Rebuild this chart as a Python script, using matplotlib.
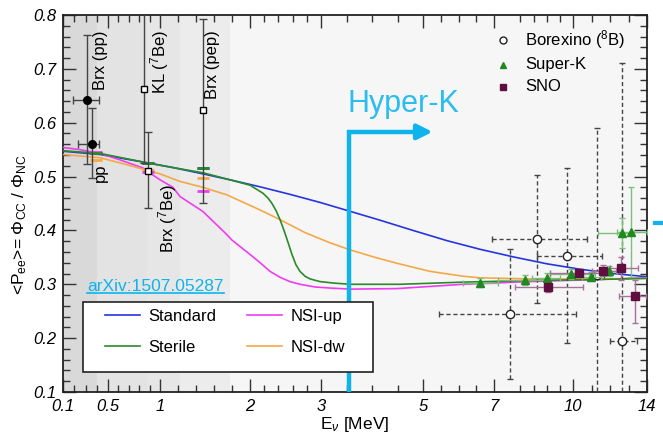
import numpy as np
import matplotlib
matplotlib.use('Agg')
import matplotlib.pyplot as plt
from matplotlib.lines import Line2D
from matplotlib.patches import Rectangle

plt.rcParams['font.family'] = ['Liberation Sans', 'DejaVu Sans']
plt.rcParams['mathtext.fontset'] = 'custom'
plt.rcParams['mathtext.rm'] = 'Liberation Sans'
plt.rcParams['mathtext.it'] = 'Liberation Sans:italic'
plt.rcParams['mathtext.bf'] = 'Liberation Sans:bold'

# ---------------- energy axis definition ----------------
tick_E = [0.1, 0.5, 1, 2, 3, 5, 7, 10, 14]
tick_labels = ['0.1', '0.5', '1', '2', '3', '5', '7', '10', '14']
scale_knots = [0, 45, 97, 187, 258, 360, 431, 510, 584]
minor_E = [0.2, 0.3, 0.4, 0.6, 0.7, 0.8, 0.9, 1.2, 1.4, 1.6, 1.8,
           2.2, 2.4, 2.6, 2.8, 3.5, 4, 4.5, 5.5, 6, 6.5, 8, 8.5, 9, 9.5,
           11, 12, 13]

# ---------------- model curves ----------------
std_E = [0.1, 0.429, 0.837, 1.167, 1.478, 1.778, 2.141, 2.563, 2.986, 3.588,
         4.157, 4.804, 5.676, 6.606, 7.722, 9.013, 10.378, 12.162, 14]
std_P = [0.547, 0.541, 0.527, 0.516, 0.505, 0.494, 0.481, 0.467, 0.452,
         0.435, 0.419, 0.400, 0.381, 0.365, 0.351, 0.338, 0.328, 0.320, 0.314]

ster_E = [0.1, 0.429, 0.837, 1.167, 1.478, 1.778, 2.0, 2.183, 2.254, 2.31,
          2.366, 2.423, 2.479, 2.535, 2.592, 2.648, 2.704, 2.775, 2.845,
          2.986, 3.275, 3.588, 4.549, 6.127, 8.367, 11.46, 14]
ster_P = [0.548, 0.543, 0.527, 0.516, 0.507, 0.494, 0.484, 0.469, 0.460,
          0.450, 0.437, 0.420, 0.400, 0.378, 0.355, 0.336, 0.324, 0.315,
          0.310, 0.305, 0.302, 0.300, 0.300, 0.304, 0.307, 0.309, 0.311]

nsiup_E = [0.1, 0.251, 0.429, 0.615, 0.837, 0.885, 1.0, 1.144, 1.222, 1.478,
           1.744, 1.8, 2.042, 2.169, 2.282, 2.423, 2.563, 2.704, 2.915, 3.176,
           3.588, 4.49, 6.127, 8.367, 11.46, 14]
nsiup_P = [0.554, 0.550, 0.543, 0.531, 0.516, 0.509, 0.494, 0.480, 0.463,
           0.435, 0.392, 0.382, 0.351, 0.337, 0.324, 0.313, 0.305, 0.300,
           0.295, 0.293, 0.291, 0.292, 0.300, 0.305, 0.309, 0.312]

nsidw_E = [0.1, 0.429, 0.683, 1.0, 1.222, 1.478, 1.744, 2.141, 2.423, 2.775,
           3.176, 3.569, 4.059, 4.49, 5.197, 6.127, 6.606, 8.367, 11.46, 14]
nsidw_P = [0.541, 0.535, 0.522, 0.505, 0.491, 0.480, 0.466, 0.438, 0.420,
           0.396, 0.377, 0.364, 0.350, 0.339, 0.324, 0.315, 0.312, 0.310,
           0.310, 0.311]

# model averages at the pp, 7Be and pep lines
line_E = [0.39, 0.88, 1.48]
std_avg = [0.543, 0.525, 0.516]
ster_avg = [0.543, 0.525, 0.516]
nsiup_avg = [0.545, 0.509, 0.473]
nsidw_avg = [0.531, 0.512, 0.497]

# ---------------- low energy measurements ----------------
pp_E = [0.313, 0.358]
pp_P = [0.642, 0.560]
pp_Plo = [0.523, 0.497]
pp_Phi = [0.763, 0.627]
pp_Elo = [0.189, 0.233]
pp_Ehi = [0.420, 0.420]

be_E = [0.846, 0.885, 1.48]
be_P = [0.662, 0.510, 0.623]
be_Plo = [0.525, 0.442, 0.451]
be_Phi = [0.850, 0.583, 0.793]

# ---------------- 8B measurements ----------------
bx_E = [7.61, 8.63, 9.77, 11.3, 12.65]
bx_P = [0.245, 0.384, 0.353, 0.317, 0.195]
bx_Elo = [5.45, 6.94, 8.63, 10.9, 12.0]
bx_Ehi = [10.16, 10.76, 11.57, 11.7, 13.46]
bx_Plo = [0.124, 0.265, 0.191, 0.05, 0.05]
bx_Phi = [0.366, 0.503, 0.516, 0.590, 0.711]

sk_E = [6.61, 8.18, 9.01, 9.92, 10.97, 11.95, 12.65, 13.14]
sk_P = [0.303, 0.308, 0.312, 0.319, 0.314, 0.325, 0.395, 0.397]
sk_Elo = [6.13, 7.15, 8.44, 9.13, 10.5, 11.5, 11.35, 12.38]
sk_Ehi = [7.15, 9.13, 9.51, 11.19, 11.5, 12.4, 13.3, 14.0]
sk_Plo = [0.295, 0.298, 0.303, 0.310, 0.306, 0.316, 0.367, 0.314]
sk_Phi = [0.311, 0.318, 0.321, 0.328, 0.322, 0.334, 0.423, 0.480]

sno_E = [9.05, 10.32, 11.62, 12.59, 13.35]
sno_P = [0.295, 0.321, 0.325, 0.330, 0.278]
sno_Elo = [7.8, 9.13, 11.0, 12.0, 12.49]
sno_Ehi = [10.54, 11.57, 12.3, 13.5, 13.95]
sno_Plo = [0.285, 0.313, 0.316, 0.308, 0.228]
sno_Phi = [0.305, 0.329, 0.335, 0.351, 0.308]

# shaded energy windows of the low energy lines
band_E = [0.1, 0.40, 0.875, 1.22, 1.78]
band_colors = ['#d9d9d9', '#e3e3e3', '#e6e6e6', '#ececec']

hk_threshold = 3.55

BLUE = '#2535e0'
GREEN = '#2a8a2a'
MAGENTA = '#f03cf0'
ORANGE = '#f5a847'
CYAN = '#10b4ec'


def fwd(e):
    return np.interp(np.asarray(e, dtype=float), tick_E, scale_knots)


def inv(p):
    return np.interp(np.asarray(p, dtype=float), scale_knots, tick_E)


W, H = 663, 438
fig = plt.figure(figsize=(W / 100, H / 100), dpi=100)
ax = fig.add_axes([63 / W, (H - 392) / H, 584 / W, 377 / H])
ax.set_xscale('function', functions=(fwd, inv))
ax.set_xlim(0.1, 14)
ax.set_ylim(0.1, 0.8)
ax.set_facecolor('#f6f6f6')

for i in range(len(band_colors)):
    ax.axvspan(band_E[i], band_E[i + 1], color=band_colors[i], lw=0, zorder=0)

# ticks
ax.set_xticks(tick_E)
ax.set_xticklabels(tick_labels)
ax.set_xticks(minor_E, minor=True)
ax.set_yticks(np.round(np.arange(0.1, 0.81, 0.1), 2))
ax.set_yticks(np.round(np.arange(0.1, 0.8, 0.02), 2), minor=True)
ax.yaxis.set_major_formatter(matplotlib.ticker.FormatStrFormatter('%.1f'))
ax.tick_params(which='both', direction='in', top=True, right=True,
               color='#333333', width=1.0)
ax.tick_params(which='major', length=9.5)
ax.tick_params(which='minor', length=5)
ax.tick_params(axis='x', which='major', pad=5)
ax.tick_params(axis='y', which='major', pad=5)
for lab in ax.get_xticklabels() + ax.get_yticklabels():
    lab.set_fontstyle('italic')
    lab.set_fontsize(12)
for sp in ax.spines.values():
    sp.set_linewidth(1.3)
    sp.set_color('#222222')

# model curves
lw = 1.2
ax.plot(std_E, std_P, color=BLUE, lw=lw, zorder=3, label='Standard')
ax.plot(ster_E, ster_P, color=GREEN, lw=lw, zorder=4, label='Sterile')
ax.plot(nsiup_E, nsiup_P, color=MAGENTA, lw=lw, zorder=3, label='NSI-up')
ax.plot(nsidw_E, nsidw_P, color=ORANGE, lw=lw, zorder=3, label='NSI-dw')

for vals, c in [(std_avg, BLUE), (nsidw_avg, ORANGE), (nsiup_avg, MAGENTA),
                (ster_avg, GREEN)]:
    ax.plot(line_E, vals, ls='none', marker='_', ms=8, mew=2, color=c, zorder=5)

# low energy data
pp_E_a = np.array(pp_E); pp_P_a = np.array(pp_P)
ax.errorbar(pp_E, pp_P,
            yerr=[pp_P_a - np.array(pp_Plo), np.array(pp_Phi) - pp_P_a],
            xerr=[pp_E_a - np.array(pp_Elo), np.array(pp_Ehi) - pp_E_a],
            fmt='o', ms=5.5, color='black', ecolor='#444444', elinewidth=1.0,
            capsize=3, capthick=1.0, zorder=6)
be_P_a = np.array(be_P)
ax.errorbar(be_E, be_P,
            yerr=[be_P_a - np.array(be_Plo), np.array(be_Phi) - be_P_a],
            fmt='s', ms=5, mfc='white', mec='black', mew=1.0, color='black',
            ecolor='#444444', elinewidth=1.0, capsize=3, capthick=1.0, zorder=6)

# 8B data
def draw_points(E, P, Elo, Ehi, Plo, Phi, fmt, ms, mfc, mec, ecolor, dashed, z):
    E = np.array(E); P = np.array(P)
    cont = ax.errorbar(E, P, yerr=[P - np.array(Plo), np.array(Phi) - P],
                       xerr=[E - np.array(Elo), np.array(Ehi) - E],
                       fmt=fmt, ms=ms, mfc=mfc, mec=mec, mew=1.0,
                       ecolor=ecolor, elinewidth=1.0, capsize=2.5,
                       capthick=1.0, zorder=z)
    if dashed:
        for lc in cont[2]:
            lc.set_linestyle((0, (3, 2)))
    return cont

draw_points(bx_E, bx_P, bx_Elo, bx_Ehi, bx_Plo, bx_Phi, 'o', 6, 'white',
            '#222222', '#444444', True, 6)
draw_points(sk_E, sk_P, sk_Elo, sk_Ehi, sk_Plo, sk_Phi, '^', 6, '#1f8a1f',
            '#1f8a1f', '#7cc07c', False, 7)
draw_points(sno_E, sno_P, sno_Elo, sno_Ehi, sno_Plo, sno_Phi, 's', 5.5,
            '#5e0f40', '#5e0f40', '#a7729a', False, 7)

# experiment labels
lab_kw = dict(rotation=90, ha='center', va='center', fontsize=12, zorder=8)
ax.text(0.43, 0.716, 'Brx (pp)', **lab_kw)
ax.text(0.43, 0.508, 'pp', **lab_kw)
ax.text(1.0, 0.713, r'KL ($^{7}$Be)', **lab_kw)
ax.text(1.08, 0.423, r'Brx ($^{7}$Be)', **lab_kw)
ax.text(1.58, 0.707, 'Brx (pep)', **lab_kw)

# Hyper-K reach
hk_top = 0.583
ax.plot([hk_threshold, hk_threshold, 5.0], [0.1, hk_top, hk_top], color=CYAN,
        lw=3.2, solid_joinstyle='miter', solid_capstyle='butt', zorder=9,
        clip_on=False)
ax.annotate('', xy=(5.27, hk_top), xytext=(4.9, hk_top),
            arrowprops=dict(arrowstyle='-|>,head_length=0.9,head_width=0.45',
                            color=CYAN, lw=3.2, shrinkA=0, shrinkB=0),
            zorder=9)
ax.text(3.52, 0.62, 'Hyper-K', color='#2bbdee', fontsize=22, ha='left',
        va='baseline', zorder=9)
fig.add_artist(Line2D([655 / W, 1.0], [1 - 223 / H] * 2, color=CYAN, lw=3.0))

# measurement legend (upper right)
leg_rows = [('o', 'white', '#222222', 5, r'Borexino ($^{8}$B)'),
            ('^', '#1f8a1f', '#1f8a1f', 5, 'Super-K'),
            ('s', '#5e0f40', '#5e0f40', 4.5, 'SNO')]
for k, (m, fc, ec, ms, txt) in enumerate(leg_rows):
    yy = [0.934, 0.868, 0.810][k]
    ax.plot([0.753], [yy], marker=m, ms=ms, mfc=fc, mec=ec, mew=1.0,
            ls='none', transform=ax.transAxes, zorder=9)
    ax.text(0.791, yy, txt, transform=ax.transAxes, fontsize=12,
            va='center', ha='left', zorder=9)

# model legend (lower left)
ax.add_patch(Rectangle((20 / 584, 20 / 377), 290 / 584, 70 / 377,
                       transform=ax.transAxes, fc='white', ec='#222222',
                       lw=1.2, zorder=9))
ax.legend(loc='upper left', bbox_to_anchor=(42 / 584, 83 / 377), ncol=2,
          frameon=False, fontsize=12, handlelength=2.1, handletextpad=0.5,
          columnspacing=1.85, labelspacing=0.95, borderpad=0,
          borderaxespad=0).set_zorder(10)

# reference tag
arx = ax.text(24 / 584, 101 / 377, 'arXiv:1507.05287', color=CYAN,
              fontsize=12.5, transform=ax.transAxes, ha='left',
              va='baseline', zorder=9)

fig.text(20 / W, 1 - 225 / H,
         r'<P$_{\rm ee}$>= $\Phi_{\rm CC}$ / $\Phi_{\rm NC}$',
         rotation=90, ha='center', va='center', fontsize=12.5)
fig.text(355 / W, 1 - 425 / H, r'E$_{\nu}$ [MeV]', ha='center',
         va='center', fontsize=12.5)

fig.canvas.draw()
bb = arx.get_window_extent(fig.canvas.get_renderer())
base = ax.transAxes.transform((0, 101 / 377))[1]
fig.add_artist(Line2D([bb.x0 / W, bb.x1 / W], [(base - 2.2) / H] * 2,
                      color=CYAN, lw=1.2))

fig.savefig('out.png', dpi=100)
